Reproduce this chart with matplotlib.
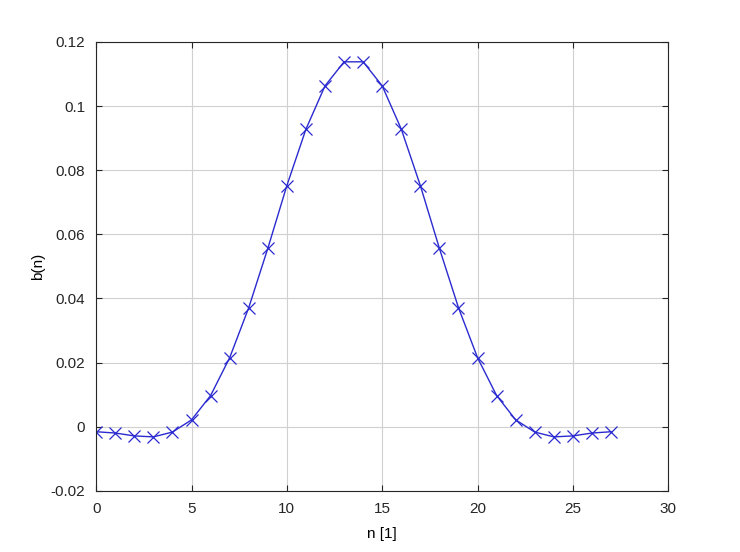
import numpy as np
import matplotlib
matplotlib.use("Agg")
import matplotlib.pyplot as plt

n = np.arange(28)
b = [-0.0016, -0.0020, -0.0029, -0.0032, -0.0017, 0.0021, 0.0097, 0.0215,
     0.0371, 0.0556, 0.0752, 0.0928, 0.1063, 0.1138,
     0.1138, 0.1063, 0.0928, 0.0752, 0.0556, 0.0371, 0.0215, 0.0097,
     0.0021, -0.0017, -0.0032, -0.0029, -0.0020, -0.0016]

plt.rcParams["font.family"] = ["Liberation Sans", "DejaVu Sans"]
plt.rcParams["font.size"] = 11

fig = plt.figure(figsize=(7.4, 5.52), dpi=100)
ax = fig.add_axes([0.13, 0.111, 0.773, 0.813])

ax.plot(n, b, color="#2a2ad0", linewidth=1, marker="x",
        markersize=8.5, markeredgewidth=0.9)

ax.set_xlim(0, 30)
ax.set_ylim(-0.02, 0.12)
ax.set_xlabel("n [1]", labelpad=8)
ax.set_ylabel("b(n)", labelpad=4)
ax.set_xticks(np.arange(0, 31, 5))
ax.set_yticks(np.arange(-0.02, 0.121, 0.02))
ax.set_yticklabels(["-0.02", "0", "0.02", "0.04", "0.06", "0.08", "0.1", "0.12"])
ax.grid(True, color="#d0d0d0", linewidth=0.8)
ax.tick_params(direction="in", top=True, right=True, length=4,
               colors="#262626", labelcolor="#262626", pad=8)
for sp in ax.spines.values():
    sp.set_color("#262626")
    sp.set_linewidth(0.8)

fig.savefig("out.png", dpi=100)
